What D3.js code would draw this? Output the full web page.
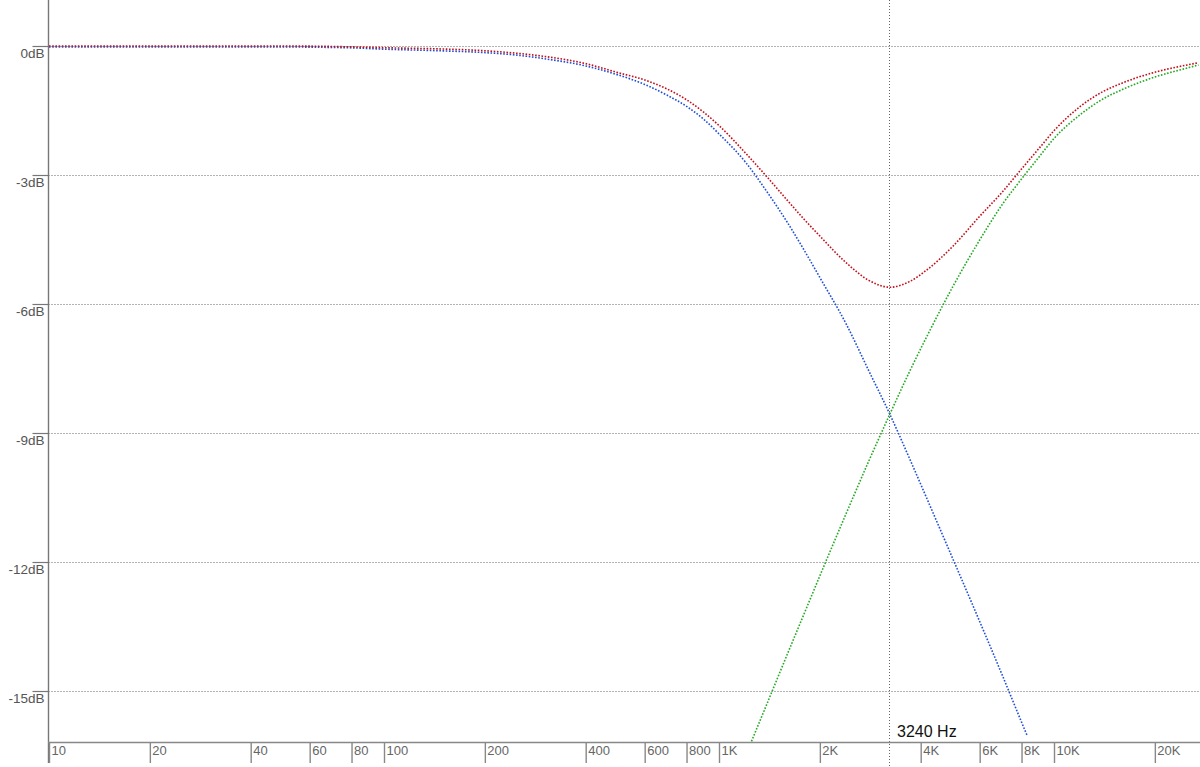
<!DOCTYPE html>
<html>
<head>
<meta charset="utf-8">
<script src="https://cdn.jsdelivr.net/npm/d3@7"></script>
<style>
  html, body { margin: 0; padding: 0; background: #fff; }
  svg { display: block; font-family: "Liberation Sans", Arial, sans-serif; }
</style>
</head>
<body>
<svg id="chart" width="1200" height="767"></svg>
<script>
// ---- data ----
const xTickValues = [10, 20, 40, 60, 80, 100, 200, 400, 600, 800, 1000, 2000, 4000, 6000, 8000, 10000, 20000];
const xTickLabels = ["10", "20", "40", "60", "80", "100", "200", "400", "600", "800", "1K", "2K", "4K", "6K", "8K", "10K", "20K"];
const yTickValues = [0, -3, -6, -9, -12, -15];
const yTickLabels = ["0dB", "-3dB", "-6dB", "-9dB", "-12dB", "-15dB"];

const markerFreq = 3240;
const markerLabel = "3240 Hz";

// low-pass (blue)
const lowFreq = [10, 20, 50, 80, 100, 150, 200, 250, 300, 400, 500, 600, 700, 800, 900, 1000, 1200, 1400, 1600, 1800, 2000, 2400, 2800, 3240, 3700, 4200, 5000, 6000, 7000, 8000, 8300];
const lowDb   = [0, 0, 0, -0.02, -0.05, -0.09, -0.13, -0.19, -0.27, -0.44, -0.65, -0.87, -1.12, -1.38, -1.68, -2.02, -2.68, -3.40, -4.08, -4.74, -5.36, -6.45, -7.53, -8.55, -9.56, -10.55, -11.92, -13.36, -14.60, -15.70, -16.00];

// high-pass (green)
const highFreq = [1250, 1400, 1600, 1800, 2000, 2400, 2800, 3240, 3700, 4200, 5000, 6000, 7000, 8000, 9000, 10000, 12000, 14000, 16000, 20000, 25000, 27000];
const highDb   = [-16.16, -15.23, -14.13, -13.17, -12.31, -10.85, -9.64, -8.54, -7.57, -6.70, -5.57, -4.50, -3.68, -3.08, -2.58, -2.14, -1.58, -1.22, -1.00, -0.71, -0.50, -0.43];

// combined response (red)
const sumFreq = [10, 20, 50, 80, 100, 150, 200, 250, 300, 400, 500, 600, 700, 800, 900, 1000, 1200, 1400, 1600, 1800, 2000, 2400, 2800, 3240, 3700, 4200, 5000, 6000, 7000, 8000, 9000, 10000, 12000, 14000, 16000, 20000, 25000, 27000];
const sumDb   = [0, 0, 0, -0.02, -0.04, -0.07, -0.11, -0.17, -0.24, -0.41, -0.62, -0.79, -1.00, -1.25, -1.54, -1.85, -2.49, -3.07, -3.59, -4.04, -4.42, -5.045, -5.45, -5.61, -5.48, -5.19, -4.65, -3.96, -3.40, -2.86, -2.39, -1.97, -1.40, -1.06, -0.86, -0.61, -0.44, -0.39];

// ---- layout ----
const W = 1200, H = 767;
const left = 48.5, axisY = 742;

const svg = d3.select("#chart");
const x = d3.scaleLog().domain([10, 10000]).range([49, 1054]);
const y = d3.scaleLinear().domain([0, -15]).range([46, 691]);

// clip for plot area
svg.append("defs").append("clipPath").attr("id", "plot")
  .append("rect").attr("x", left).attr("y", 0).attr("width", W - left).attr("height", axisY);

// horizontal grid (dotted)
svg.append("g").selectAll("line").data(yTickValues).join("line")
  .attr("x1", left).attr("x2", W)
  .attr("y1", d => Math.round(y(d)) + 0.5).attr("y2", d => Math.round(y(d)) + 0.5)
  .attr("stroke", "#666").attr("stroke-width", 1).attr("stroke-dasharray", "1,2");

// marker line (dotted, vertical)
const mx = Math.round(x(markerFreq)) - 0.5;
svg.append("line")
  .attr("x1", mx).attr("x2", mx).attr("y1", 0).attr("y2", H)
  .attr("stroke", "#666").attr("stroke-width", 1).attr("stroke-dasharray", "1,2");

// y axis
const yAxis = d3.axisLeft(y).tickValues(yTickValues)
  .tickFormat((d, i) => yTickLabels[i]).tickSize(16).tickPadding(5);
const gy = svg.append("g").attr("transform", `translate(${left},0)`).call(yAxis);
gy.select(".domain").remove();
gy.selectAll(".tick line").attr("stroke", "#777").attr("stroke-width", 1.2);
gy.selectAll(".tick text")
  .attr("x", -4).attr("dy", "0.88em")
  .attr("fill", "#555").style("font-size", "13.5px")
  .style("font-family", "'Liberation Sans', Arial, sans-serif");
svg.append("line").attr("x1", left).attr("x2", left).attr("y1", 0).attr("y2", 763)
  .attr("stroke", "#777").attr("stroke-width", 1.4);

// x axis
const xAxis = d3.axisBottom(x).tickValues(xTickValues)
  .tickFormat((d, i) => xTickLabels[i]).tickSize(21);
const gx = svg.append("g").attr("transform", `translate(0,${axisY})`).call(xAxis);
gx.select(".domain").remove();
gx.selectAll(".tick line").attr("stroke", "#888").attr("stroke-width", 1.4);
gx.selectAll(".tick text")
  .attr("x", 2).attr("y", 0).attr("dy", "1.0em").attr("text-anchor", "start")
  .attr("fill", "#666").style("font-size", "13px")
  .style("font-family", "'Liberation Sans', Arial, sans-serif");
svg.append("line").attr("x1", left - 0.5).attr("x2", W).attr("y1", axisY + 0.5).attr("y2", axisY + 0.5)
  .attr("stroke", "#888").attr("stroke-width", 1.4);

// marker label
svg.append("text").attr("x", x(markerFreq) + 7).attr("y", 737)
  .attr("fill", "#111").style("font-size", "16px")
  .style("font-family", "'Liberation Sans', Arial, sans-serif")
  .text(markerLabel);

// curves
const line = d3.line().x(d => x(d[0])).y(d => y(d[1])).curve(d3.curveMonotoneX);
const plot = svg.append("g").attr("clip-path", "url(#plot)");

function series(freqs, dbs, color, dy) {
  const pts = freqs.map((f, i) => [f, dbs[i]]);
  plot.append("path").datum(pts)
    .attr("d", line)
    .attr("transform", `translate(0,${dy})`)
    .attr("fill", "none").attr("stroke", color)
    .attr("stroke-width", 1.6).attr("stroke-dasharray", "1.6,1.6");
}
series(lowFreq, lowDb, "#1f4fd8", 1);
series(highFreq, highDb, "#22aa22", 0.5);
series(sumFreq, sumDb, "#c40f1a", 0);
</script>
</body>
</html>
